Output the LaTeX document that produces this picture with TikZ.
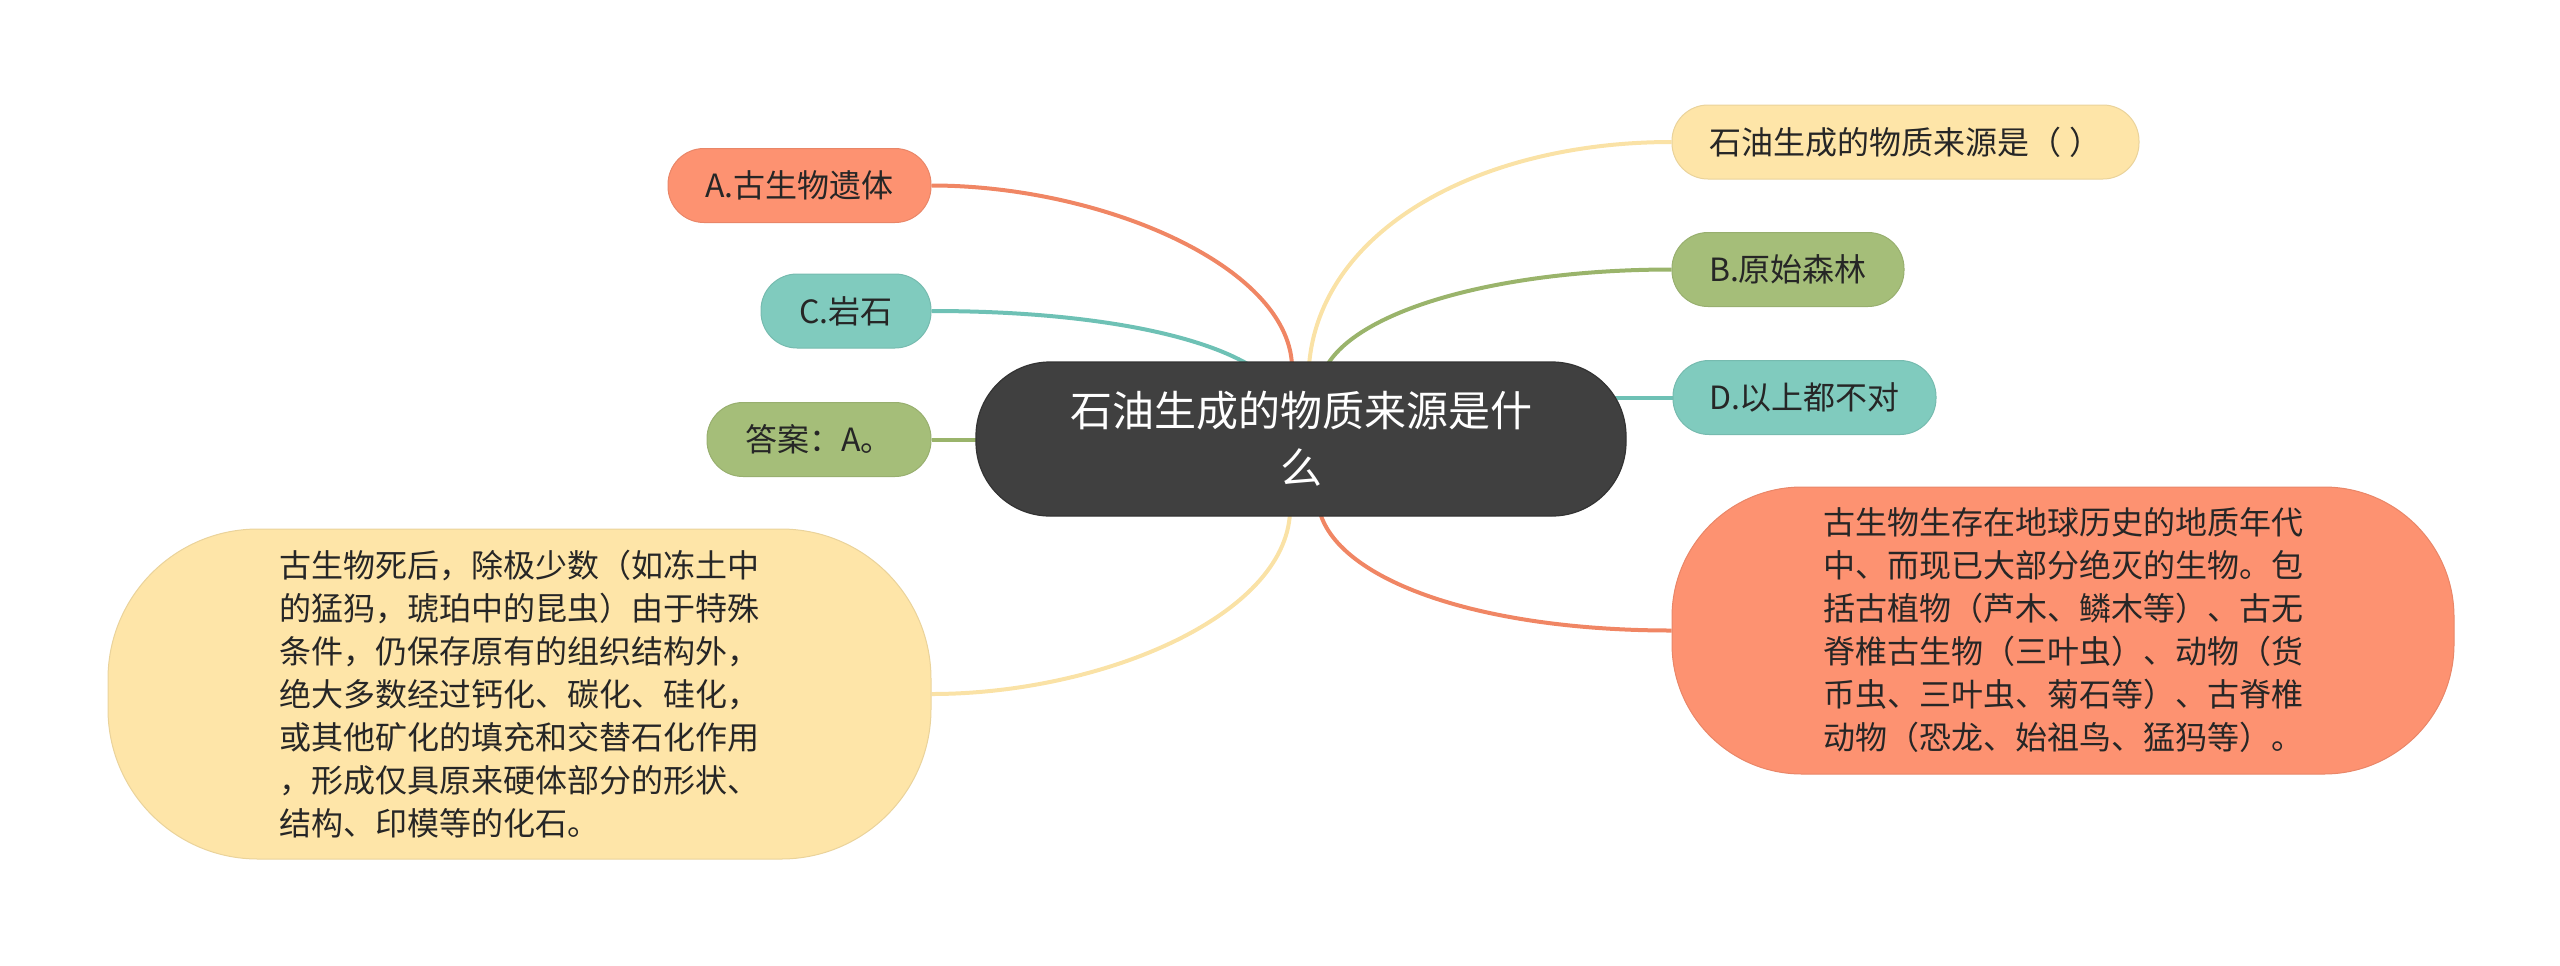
\documentclass[tikz,border=0pt]{standalone}
\usepackage{fontspec}
\setmainfont{Noto Sans CJK SC}
\usepackage{tikz}
\usetikzlibrary{calc,backgrounds}
\definecolor{rootgray}{RGB}{64,64,64}
\definecolor{inkdark}{RGB}{38,38,38}
\definecolor{salmonfill}{RGB}{253,146,113}
\definecolor{salmonline}{RGB}{240,134,100}
\definecolor{tealfill}{RGB}{128,203,190}
\definecolor{tealline}{RGB}{110,193,181}
\definecolor{greenfill}{RGB}{165,190,121}
\definecolor{greenline}{RGB}{154,180,107}
\definecolor{creamfill}{RGB}{254,229,168}
\definecolor{creamline}{RGB}{250,226,166}

\begin{document}
\begin{tikzpicture}[x=0.5pt, y=-0.5pt]
  \tikzstyle{topic} = [rectangle, rounded corners=37pt, draw=rootgray!80!black, line width=0.6pt, fill=rootgray, text=white, minimum width=325pt, minimum height=77pt, inner sep=0pt, align=center, font=\fontsize{21}{28.5}\selectfont]
  \tikzstyle{pill} = [rectangle, rounded corners=18pt, line width=0.5pt, text=inkdark, minimum height=37pt, inner sep=0pt, align=center, font=\fontsize{16}{18.5}\selectfont]
  \tikzstyle{bigpill} = [pill, align=left, font=\fontsize{16}{21.5}\selectfont]
  \tikzstyle{link} = [line width=2pt]

  \useasboundingbox (0,0) rectangle (2560,965);

  % central topic
  \node[topic] (root) at (1301,439) {石油生成的物质来源是什\\么};

  % left branches
  \node[pill, fill=salmonfill, draw=salmonfill!92!black, minimum width=131.5pt] (optA) at (799.5,185.5) {A.古生物遗体};
  \node[pill, fill=tealfill, draw=tealfill!92!black, minimum width=85pt] (optC) at (846,311) {C.岩石};
  \node[pill, fill=greenfill, draw=greenfill!92!black, minimum width=112pt] (answer) at (819,439.5) {答案：A。};
  \node[bigpill, fill=creamfill, draw=creamfill!92!black, rounded corners=75pt, minimum width=411.5pt, minimum height=165pt] (explain) at (519.5,694) {古生物死后，除极少数（如冻土中\\的猛犸，琥珀中的昆虫）由于特殊\\条件，仍保存原有的组织结构外，\\绝大多数经过钙化、碳化、硅化，\\或其他矿化的填充和交替石化作用\\，形成仅具原来硬体部分的形状、\\结构、印模等的化石。};

  % right branches
  \node[pill, fill=creamfill, draw=creamfill!92!black, minimum width=233.5pt] (question) at (1905.5,142) {石油生成的物质来源是（ ）};
  \node[pill, fill=greenfill, draw=greenfill!92!black, minimum width=116pt] (optB) at (1788,269.5) {B.原始森林};
  \node[pill, fill=tealfill, draw=tealfill!92!black, minimum width=131.5pt] (optD) at (1804.5,397.5) {D.以上都不对};
  \node[bigpill, fill=salmonfill, draw=salmonfill!92!black, rounded corners=65pt, minimum width=391pt, minimum height=143.5pt] (fossil) at (2063,630.5) {古生物生存在地球历史的地质年代\\中、而现已大部分绝灭的生物。包\\括古植物（芦木、鳞木等）、古无\\脊椎古生物（三叶虫）、动物（货\\币虫、三叶虫、菊石等）、古脊椎\\动物（恐龙、始祖鸟、猛犸等）。};

  % connectors behind the nodes
  \begin{scope}[on background layer]
    \draw[link, salmonline] (optA.east) .. controls +(169,0) and +(-4,-100) .. ($(root.north)+(-9,4)$);
    \draw[link, tealline] (optC.east) .. controls +(149,0) and +(-55,-33) .. ($(root.north)+(-51,4)$);
    \draw[link, greenline] (answer.east) -- (answer.east -| root.center);
    \draw[link, creamline] (explain.east) .. controls +(169,0) and +(-5,104) .. ($(root.south)+(-11,-4)$);
    \draw[link, creamline] ($(root.north)+(8,4)$) .. controls +(11,-136) and +(-192,0) .. (question.west);
    \draw[link, greenline] ($(root.north)+(26,4)$) .. controls +(33,-56) and +(-172,0) .. (optB.west);
    \draw[link, tealline] (optD.west) -- (optD.west -| root.center);
    \draw[link, salmonline] ($(root.south)+(19,-4)$) .. controls +(20,68) and +(-192,0) .. (fossil.west);
  \end{scope}
\end{tikzpicture}
\end{document}
